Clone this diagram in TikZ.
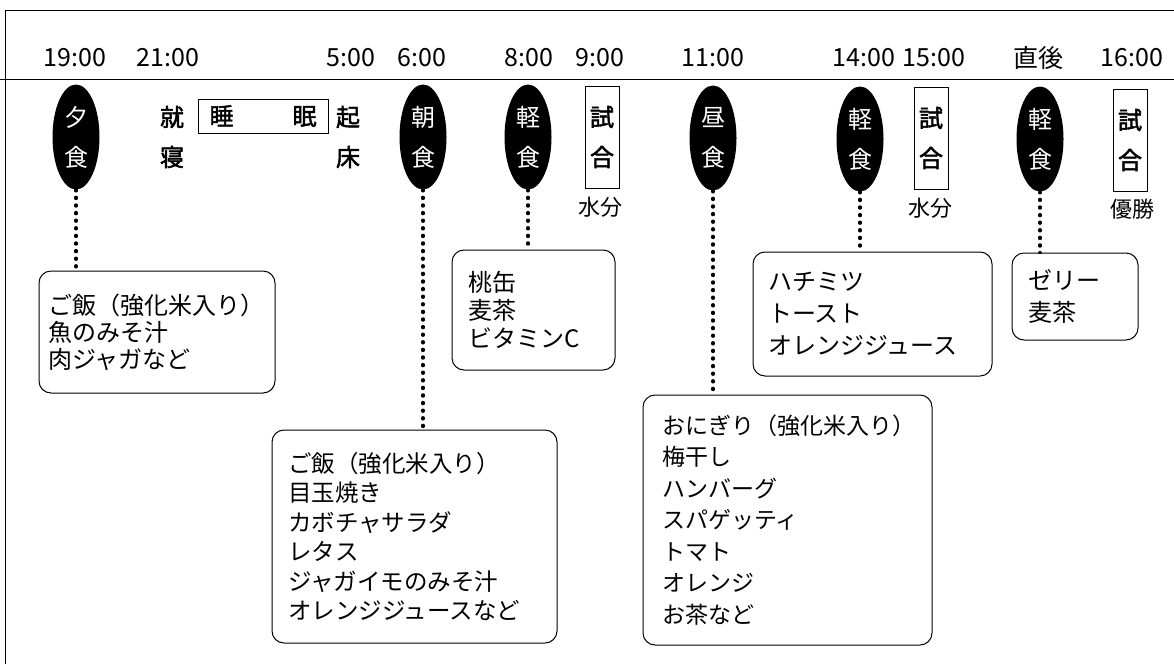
\documentclass[tikz,border=0pt]{standalone}
\usepackage{fontspec}
\setmainfont{Noto Sans CJK JP}
\newfontfamily\jpb{Noto Sans CJK JP}[FakeBold=2]
\usetikzlibrary{shapes.geometric}
\tikzset{
  frameline/.style={line width=1pt},
  tlabel/.style={inner sep=0pt, font=\fontsize{25}{25}\selectfont},
  meal/.style={ellipse, fill=black, text=white, minimum width=47pt, minimum height=105pt, inner sep=0pt, align=center, font=\fontsize{24}{40}\selectfont},
  game/.style={draw, line width=0.9pt, minimum width=34pt, minimum height=102pt, inner sep=0pt, align=center, font=\jpb\fontsize{24}{40}\selectfont},
  sub/.style={inner sep=0pt, font=\fontsize{22}{22}\selectfont},
  sleepch/.style={inner sep=0pt, font=\jpb\fontsize{24}{24}\selectfont},
  sleepbox/.style={draw, line width=0.9pt, minimum width=130pt, minimum height=34pt, inner sep=0pt, font=\jpb\fontsize{24}{24}\selectfont},
  menu/.style={draw, line width=1pt, rounded corners=12pt, align=left, inner ysep=0pt, inner xsep=16pt},
  dotl/.style={line width=3.2pt, dash pattern=on 1.2pt off 6.4pt, line cap=round}
}
\begin{document}
\begin{tikzpicture}[x=1pt,y=-1pt]
\useasboundingbox (0,0) rectangle (1174,664);
% frame
\draw[frameline] (5,664) -- (5,10) -- (1174,10);
\draw[frameline] (0,79) -- (1174,79);
% times
\node[tlabel] (t1) at (75,58) {19:00};
\node[tlabel] (t2) at (168,58) {21:00};
\node[tlabel] (t3) at (351,58) {5:00};
\node[tlabel] (t4) at (422,58) {6:00};
\node[tlabel] (t5) at (529,58) {8:00};
\node[tlabel] (t6) at (600,58) {9:00};
\node[tlabel] (t7) at (713,58) {11:00};
\node[tlabel] (t8) at (864,58) {14:00};
\node[tlabel] (t9) at (934,58) {15:00};
\node[tlabel] (t10) at (1038,58) {直後};
\node[tlabel] (t11) at (1132,58) {16:00};
% meals
\node[meal] (m1) at (76,137) {夕\\食};
\node[meal] (m2) at (423,137) {朝\\食};
\node[meal] (m3) at (528,137) {軽\\食};
\node[meal] (m4) at (713,138) {昼\\食};
\node[meal] (m5) at (860,139) {軽\\食};
\node[meal] (m6) at (1040,139) {軽\\食};
% games
\node[game] (g1) at (602,137) {試\\合};
\node[game] (g2) at (931,138) {試\\合};
\node[game] (g3) at (1130,140) {試\\合};
\node[sub] (w1) at (600,207) {水分};
\node[sub] (w2) at (930,208) {水分};
\node[sub] (w3) at (1132,209) {優勝};
% sleep
\node[sleepch] (s1) at (172,117) {就};
\node[sleepch] (s2) at (172,157) {寝};
\node[sleepbox] (s3) at (263,116) {睡\hspace{59pt}眠};
\node[sleepch] (s4) at (348,117) {起};
\node[sleepch] (s5) at (348,157) {床};
% menus
\node[menu, inner xsep=9pt, minimum width=236pt, minimum height=122pt, text width=218pt, font=\fontsize{24}{27}\selectfont] (b1) at (157,332)
  {ご飯（強化米入り）\\魚のみそ汁\\肉ジャガなど};
\node[menu, minimum width=285pt, minimum height=213pt, text width=253pt, font=\fontsize{23.5}{29.5}\selectfont] (b2) at (414.5,536.5)
  {ご飯（強化米入り）\\目玉焼き\\カボチャサラダ\\レタス\\ジャガイモのみそ汁\\オレンジジュースなど};
\node[menu, minimum width=163pt, minimum height=120pt, text width=131pt, font=\fontsize{24}{28}\selectfont] (b3) at (533.5,310)
  {桃缶\\麦茶\\ビタミンC};
\node[menu, inner xsep=19pt, minimum width=289pt, minimum height=250pt, text width=251pt, font=\fontsize{23}{31.5}\selectfont] (b4) at (787.5,520)
  {おにぎり（強化米入り）\\梅干し\\ハンバーグ\\スパゲッティ\\トマト\\オレンジ\\お茶など};
\node[menu, inner xsep=15pt, minimum width=239pt, minimum height=124pt, text width=209pt, font=\fontsize{24}{32}\selectfont] (b5) at (872.5,314)
  {ハチミツ\\トースト\\オレンジジュース};
\node[menu, minimum width=126pt, minimum height=87pt, text width=94pt, font=\fontsize{24}{32}\selectfont] (b6) at (1075,296.5)
  {ゼリー\\麦茶};
% dotted connectors
\draw[dotl] (m1.south) -- (m1.south |- b1.north);
\draw[dotl] (m2.south) -- (m2.south |- b2.north);
\draw[dotl] (m3.south) -- (m3.south |- b3.north);
\draw[dotl] (m4.south) -- (m4.south |- b4.north);
\draw[dotl] (m5.south) -- (m5.south |- b5.north);
\draw[dotl] (m6.south) -- (m6.south |- b6.north);
\end{tikzpicture}
\end{document}
